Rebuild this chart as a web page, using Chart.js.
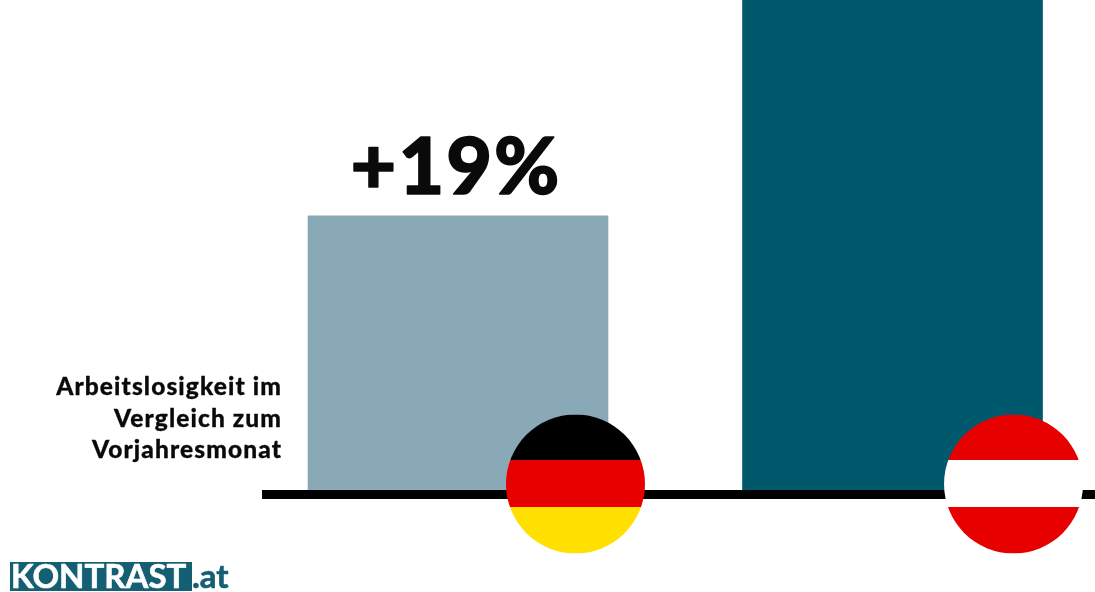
<!DOCTYPE html>
<html lang="de">
<head>
<meta charset="utf-8">
<title>Arbeitslosigkeit im Vergleich zum Vorjahresmonat</title>
<script src="https://cdn.jsdelivr.net/npm/chart.js@4/dist/chart.umd.min.js"></script>
<style>
html,body{margin:0;padding:0;background:#fff;overflow:hidden}
#wrap{position:relative;width:1095px;height:592px}
canvas{display:block}
</style>
</head>
<body>
<div id="wrap"><canvas id="c" width="1095" height="592"></canvas></div>
<script>
const categories = ['Deutschland', 'Österreich'];
// Austria's column runs off the top of the graphic, so its height is an estimate.
const values = [19, 40];
const valueLabels = ['+19%', ''];
const barColors = ['#88a9b5', '#00586d'];
const axisNote = ['Arbeitslosigkeit im', 'Vergleich zum', 'Vorjahresmonat'];
const flagStripes = [
  ['#000000', '#e60000', '#ffe000'],
  ['#e60000', '#ffffff', '#e60000']
];
const brandName = 'KONTRAST';
const brandSuffix = '.at';

const FONT = '"Lato Black", Lato, "Open Sans", sans-serif';

// Fill plus a thin outline gives the text its heavy display weight.
function heavyText(ctx, text, x, y, outline) {
  ctx.lineJoin = 'round';
  ctx.lineWidth = outline;
  ctx.strokeStyle = ctx.fillStyle;
  ctx.strokeText(text, x, y);
  ctx.fillText(text, x, y);
}

// Value labels above the columns, and the note to the left of the baseline.
const annotations = {
  id: 'annotations',
  afterDatasetsDraw(chart) {
    const { ctx } = chart;
    const bars = chart.getDatasetMeta(0).data;
    ctx.save();
    ctx.fillStyle = '#0a0a0a';
    ctx.textAlign = 'center';
    ctx.textBaseline = 'alphabetic';
    ctx.font = '900 79px ' + FONT;
    ctx.letterSpacing = '2px';
    bars.forEach((bar, i) => {
      if (valueLabels[i]) heavyText(ctx, valueLabels[i], bar.x - 2, bar.y - 22, 1.5);
    });
    ctx.textAlign = 'right';
    ctx.font = '900 24.5px ' + FONT;
    ctx.letterSpacing = '1.1px';
    const baselines = [395, 427, 458];
    axisNote.forEach((line, i) => heavyText(ctx, line, 282, baselines[i], 0.3));
    ctx.restore();
  }
};

// Round flag badges sitting on the baseline next to each column.
const flags = {
  id: 'flags',
  afterDraw(chart) {
    const { ctx } = chart;
    const x = chart.scales.x;
    const radius = 69.5, cy = 484, offsets = [117.5, 121];
    const cuts = [cy - 24, cy + 23];
    categories.forEach((_, i) => {
      const cx = x.getPixelForValue(i) + offsets[i];
      ctx.save();
      ctx.beginPath();
      ctx.arc(cx, cy, radius, 0, Math.PI * 2);
      ctx.clip();
      const top = cy - radius, bottom = cy + radius;
      const edges = [top, cuts[0], cuts[1], bottom];
      flagStripes[i].forEach((colour, s) => {
        ctx.fillStyle = colour;
        ctx.fillRect(cx - radius, edges[s], radius * 2, edges[s + 1] - edges[s]);
      });
      ctx.restore();
    });
  }
};

// Publisher mark in the lower left corner.
const brand = {
  id: 'brand',
  afterDraw(chart) {
    const { ctx } = chart;
    ctx.save();
    ctx.fillStyle = '#155f74';
    ctx.fillRect(10, 562, 182, 29);
    ctx.textBaseline = 'alphabetic';
    ctx.textAlign = 'left';
    ctx.font = '700 33px Lato, "Open Sans", sans-serif';
    ctx.fillStyle = '#ffffff';
    heavyText(ctx, brandName, 11, 588, 0.6);
    ctx.fillStyle = '#155f74';
    heavyText(ctx, brandSuffix, 192, 588, 0.6);
    ctx.restore();
  }
};

new Chart(document.getElementById('c'), {
  type: 'bar',
  data: {
    datasets: [{
      data: values.map((y, x) => ({ x, y })),
      backgroundColor: barColors,
      borderWidth: 0,
      barThickness: 300
    }]
  },
  options: {
    responsive: false,
    animation: false,
    events: [],
    layout: { padding: { left: 266.5, right: 0, top: 0, bottom: 0 } },
    plugins: { legend: { display: false }, title: { display: false }, tooltip: { enabled: false } },
    scales: {
      x: {
        type: 'linear',
        offset: false,
        min: -0.4407,
        max: 1.466,
        grid: { display: false, drawTicks: false },
        ticks: { display: false },
        border: { display: true, color: '#000000', width: 9, z: 1 },
        afterFit(scale) { scale.height = 97.5; }
      },
      y: {
        min: 0,
        max: 33.73,
        display: false
      }
    }
  },
  plugins: [annotations, flags, brand]
});
</script>
</body>
</html>
